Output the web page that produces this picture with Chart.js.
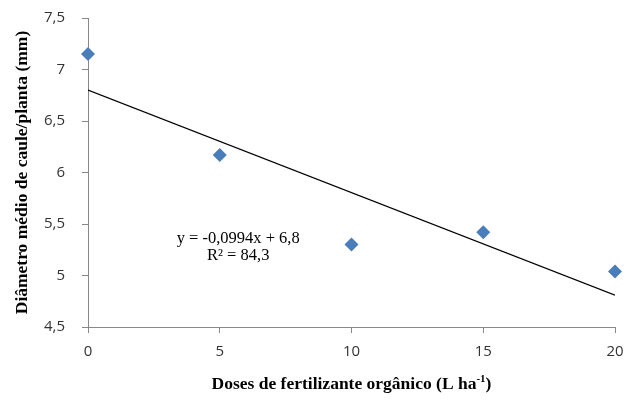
<!DOCTYPE html>
<html>
<head>
<meta charset="utf-8">
<script src="https://cdn.jsdelivr.net/npm/chart.js@4"></script>
<style>
  html, body { margin: 0; padding: 0; background: #fff; }
  #wrap { width: 627px; height: 401px; position: relative; }
</style>
</head>
<body>
<div id="wrap"><canvas id="grafico"></canvas></div>
<script>
// Dados
const doses = [0, 5, 10, 15, 20];
const diametro = [7.15, 6.17, 5.30, 5.42, 5.04];
// Linha de tendência (extremos)
const tendenciaX = [0, 20];
const tendenciaY = [6.8, 4.81];
const equacao = ['y = -0,0994x + 6,8', 'R² = 84,3'];

const virgula = v => String(v).replace('.', ',');

// Texto da equação
const equacaoPlugin = {
    id: 'equacao',
    afterDatasetsDraw(chart) {
        const ctx = chart.ctx;
        const x = chart.scales.x.getPixelForValue(5.7);
        const y = chart.scales.y.getPixelForValue(5.36);
        ctx.save();
        ctx.fillStyle = '#000';
        ctx.font = '16.5px "Liberation Serif", "Times New Roman", serif';
        ctx.textAlign = 'center';
        ctx.textBaseline = 'middle';
        ctx.fillText(equacao[0], x, y);
        ctx.fillText(equacao[1], x, y + 17);
        ctx.restore();
    }
};

// Título do eixo X com sobrescrito
const tituloXPlugin = {
    id: 'tituloX',
    afterDraw(chart) {
        const ctx = chart.ctx;
        const cx = (chart.chartArea.left + chart.chartArea.right) / 2;
        const y = 389;
        const fonte = 'bold 17.5px "Liberation Serif", "Times New Roman", serif';
        const fonteSup = 'bold 11px "Liberation Serif", "Times New Roman", serif';
        const partes = ['Doses de fertilizante orgânico (L ha', '-1', ')'];
        ctx.save();
        ctx.fillStyle = '#000';
        ctx.textBaseline = 'alphabetic';
        ctx.font = fonte;
        const w0 = ctx.measureText(partes[0]).width;
        const w2 = ctx.measureText(partes[2]).width;
        ctx.font = fonteSup;
        const w1 = ctx.measureText(partes[1]).width;
        let x = cx - (w0 + w1 + w2) / 2;
        ctx.font = fonte;
        ctx.fillText(partes[0], x, y);
        x += w0;
        ctx.font = fonteSup;
        ctx.fillText(partes[1], x, y - 7);
        x += w1;
        ctx.font = fonte;
        ctx.fillText(partes[2], x, y);
        ctx.restore();
    }
};

new Chart(document.getElementById('grafico'), {
    type: 'scatter',
    data: {
        datasets: [
            {
                label: 'Diâmetro',
                data: doses.map((d, i) => ({ x: d, y: diametro[i] })),
                pointStyle: 'rectRot',
                pointRadius: 7,
                pointHoverRadius: 7,
                backgroundColor: '#4a7ebb',
                borderColor: '#4a7ebb',
                borderWidth: 0,
                clip: false
            },
            {
                label: 'Tendência',
                type: 'line',
                data: tendenciaX.map((d, i) => ({ x: d, y: tendenciaY[i] })),
                borderColor: '#000',
                borderWidth: 1.2,
                pointRadius: 0,
                fill: false
            }
        ]
    },
    options: {
        responsive: true,
        maintainAspectRatio: false,
        animation: false,
        layout: { padding: { top: 18, right: 12, left: 0, bottom: 0 } },
        plugins: {
            legend: { display: false },
            tooltip: { enabled: false }
        },
        scales: {
            x: {
                type: 'linear',
                min: 0,
                max: 20,
                afterFit: s => { s.height = 74; s.paddingLeft = 0; s.paddingRight = 0; },
                grid: { display: true, drawOnChartArea: false, drawTicks: true, tickLength: 6, tickColor: '#888' },
                border: { color: '#888', width: 1 },
                ticks: {
                    stepSize: 5,
                    padding: 10,
                    color: '#333',
                    font: { family: '"Open Sans", sans-serif', size: 15 },
                    callback: v => virgula(v)
                }
            },
            y: {
                min: 4.5,
                max: 7.5,
                afterFit: s => { s.width = 88; s.paddingTop = 0; s.paddingBottom = 0; },
                grid: { display: true, drawOnChartArea: false, drawTicks: true, tickLength: 6, tickColor: '#888' },
                border: { color: '#888', width: 1 },
                title: {
                    display: true,
                    text: 'Diâmetro médio de caule/planta (mm)',
                    color: '#000',
                    padding: { top: 12, bottom: 4 },
                    font: { family: '"Liberation Serif", "Times New Roman", serif', size: 17.5, weight: 'bold' }
                },
                ticks: {
                    stepSize: 0.5,
                    padding: 17,
                    color: '#333',
                    font: { family: '"Open Sans", sans-serif', size: 15 },
                    callback: v => virgula(v)
                }
            }
        }
    },
    plugins: [equacaoPlugin, tituloXPlugin]
});
</script>
</body>
</html>
